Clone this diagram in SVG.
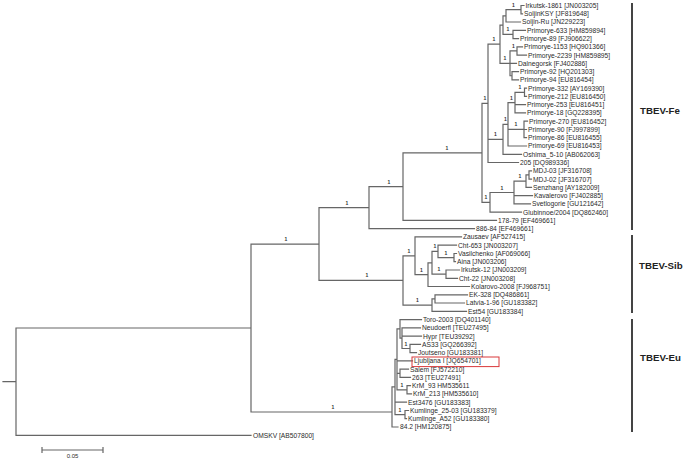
<svg xmlns="http://www.w3.org/2000/svg" width="689" height="461" viewBox="0 0 689 461">
<style>
.br{fill:none;stroke:#666;stroke-width:1.2;stroke-linecap:square}
.t{font-family:"Liberation Sans",Arial,sans-serif;font-size:6.7px;fill:#2b2b2b}
.bs{font-family:"Liberation Sans",Arial,sans-serif;font-size:5px;font-weight:bold;fill:#333;text-anchor:middle}
.cl{font-family:"Liberation Sans",Arial,sans-serif;font-size:9.7px;font-weight:bold;fill:#222}
.bar{stroke:#444;stroke-width:2}
</style>
<rect width="689" height="461" fill="#fff"/>
<g id="connectors">
<path class="br" d="M3,381.7H16 M16,328V435.3 M16,328H251 M16,435.3H251
M251,244.05V412 M251,244.05H319 M251,412H392
M319,207.65V280.45 M319,207.65H369 M319,280.45H403
M369,186.6V228.7 M369,186.6H403 M369,228.7H474.5
M403,152.8V220.4 M403,152.8H482 M403,220.4H496.5
M482,103.35V202.3 M482,103.35H488 M482,202.3H490
M488,44.2V162.5 M488,44.2H500 M488,139.3H503 M488,162.5H518.5
M500,25.1V63.35 M500,25.1H503 M500,63.35H510
M503,15.8V34.45 M503,15.8H506 M503,34.45H513
M506,9.65V22 M506,9.65H521 M506,22H520.5
M521,5.5V13.8 M521,5.5H524 M521,13.8H522.5
M513,30.3V38.6 M513,30.3H525.5 M513,38.6H518.5
M510,50.95V75.75 M510,50.95H517 M510,63.4H516.5 M510,75.75H512
M517,46.8V55.1 M517,46.8H522.5 M517,55.1H526.5
M512,71.6V79.9 M512,71.6H518.5 M512,79.9H518.5
M503,124.3V154.3 M503,124.3H508 M503,154.3H521.5
M508,102.6V146 M508,102.6H515 M508,129.45H524 M508,146H526.5
M515,92.3V112.9 M515,92.3H524.5 M515,104.7H525.5 M515,112.9H525.5
M524.5,88.2V96.4 M524.5,88.2H526.5 M524.5,96.4H526.5
M524,121.2V137.7 M524,121.2H527.5 M524,129.5H526.5 M524,137.7H526.5
M490,192.5V212.1 M490,192.5H514 M490,212.1H521.5
M514,181.1V203.9 M514,181.1H526 M514,195.6H532.5 M514,203.9H530.5
M526,174.95V187.3 M526,174.95H529 M526,187.3H531.5
M529,170.8V179.1 M529,170.8H531.5 M529,179.1H531.5
M403,255.8V305.1 M403,255.8H415 M403,305.1H432
M415,236.9V274.65 M415,236.9H461.5 M415,274.65H428
M428,262.8V286.5 M428,262.8H432 M428,286.5H469.5
M432,251.4V274.15 M432,251.4H438 M432,274.15H446
M438,245.2V257.6 M438,245.2H456.5 M438,257.6H454
M454,253.5V261.7 M454,253.5H456.5 M454,261.7H455.5
M446,270V278.3 M446,270H459.5 M446,278.3H457.5
M432,298.9V311.3 M432,298.9H435 M432,311.3H466.5
M435,294.8V303 M435,294.8H467.5 M435,303H464.5
M392,386.97V427 M392,386.97H395 M392,427H398
M395,359.35V414.6 M395,359.35H397 M395,402.2H406.5 M395,414.6H405
M397,328.9V389.8 M397,328.9H400 M397,360.9H412.5 M397,373.3H400 M397,389.8H407
M400,319.6V338.15 M400,319.6H421.5 M400,338.15H402
M402,327.8V348.5 M402,327.8H420.5 M402,336.1H421.5 M402,348.5H410
M410,344.4V352.6 M410,344.4H420.5 M410,352.6H416.5
M400,369.2V377.4 M400,369.2H408.5 M400,377.4H410.5
M407,385.7V393.9 M407,385.7H410.5 M407,393.9H411.5
M405,410.5V418.7 M405,410.5H408.5 M405,418.7H406.5"/>
</g>
<g id="support">
<text class="bs" x="513.5" y="6.6">1</text>
<text class="bs" x="508" y="31.4">1</text>
<text class="bs" x="513.5" y="47.9">1</text>
<text class="bs" x="505" y="60.3">1</text>
<text class="bs" x="520" y="89.3">1</text>
<text class="bs" x="511.5" y="99.6">1</text>
<text class="bs" x="516" y="126.4">1</text>
<text class="bs" x="505.5" y="121.3">1</text>
<text class="bs" x="494" y="41.2">1</text>
<text class="bs" x="495.5" y="136.3">1</text>
<text class="bs" x="520" y="178.1">1</text>
<text class="bs" x="502" y="189.5">1</text>
<text class="bs" x="485" y="100.3">1</text>
<text class="bs" x="486" y="199.3">1</text>
<text class="bs" x="447" y="149.8">1</text>
<text class="bs" x="389" y="183.6">1</text>
<text class="bs" x="446" y="254.6">1</text>
<text class="bs" x="435" y="248.4">1</text>
<text class="bs" x="439" y="271.1">1</text>
<text class="bs" x="421.5" y="271.6">1</text>
<text class="bs" x="409" y="252.8">1</text>
<text class="bs" x="417.5" y="302.1">1</text>
<text class="bs" x="347" y="204.6">1</text>
<text class="bs" x="367" y="277.4">1</text>
<text class="bs" x="406" y="345.5">1</text>
<text class="bs" x="402" y="386.8">1</text>
<text class="bs" x="400" y="411.6">1</text>
<text class="bs" x="286" y="241">1</text>
<text class="bs" x="333" y="409">1</text>
</g>
<g id="taxa">
<g id="n00"><text class="t" x="525.5" y="7.9">Irkutsk-1861 [JN003205]</text></g>
<g id="n01"><text class="t" x="524" y="16.2">SoljinKSY [JF819648]</text></g>
<g id="n02"><text class="t" x="522" y="24.4">Soljin-Ru [JN229223]</text></g>
<g id="n03"><text class="t" x="527" y="32.7">Primorye-633 [HM859894]</text></g>
<g id="n04"><text class="t" x="520" y="41">Primorye-89 [FJ906622]</text></g>
<g id="n05"><text class="t" x="524" y="49.2">Primorye-1153 [HQ901366]</text></g>
<g id="n06"><text class="t" x="528" y="57.5">Primorye-2239 [HM859895]</text></g>
<g id="n07"><text class="t" x="518" y="65.8">Dalnegorsk [FJ402886]</text></g>
<g id="n08"><text class="t" x="520" y="74">Primorye-92 [HQ201303]</text></g>
<g id="n09"><text class="t" x="520" y="82.3">Primorye-94 [EU816454]</text></g>
<g id="n10"><text class="t" x="528" y="90.6">Primorye-332 [AY169390]</text></g>
<g id="n11"><text class="t" x="528" y="98.8">Primorye-212 [EU816450]</text></g>
<g id="n12"><text class="t" x="527" y="107.1">Primorye-253 [EU816451]</text></g>
<g id="n13"><text class="t" x="527" y="115.3">Primorye-18 [GQ228395]</text></g>
<g id="n14"><text class="t" x="529" y="123.6">Primorye-270 [EU816452]</text></g>
<g id="n15"><text class="t" x="528" y="131.9">Primorye-90 [FJ997899]</text></g>
<g id="n16"><text class="t" x="528" y="140.1">Primorye-86 [EU816455]</text></g>
<g id="n17"><text class="t" x="528" y="148.4">Primorye-69 [EU816453]</text></g>
<g id="n18"><text class="t" x="523" y="156.7">Oshima_5-10 [AB062063]</text></g>
<g id="n19"><text class="t" x="520" y="164.9">205 [DQ989336]</text></g>
<g id="n20"><text class="t" x="533" y="173.2">MDJ-03 [JF316708]</text></g>
<g id="n21"><text class="t" x="533" y="181.5">MDJ-02 [JF316707]</text></g>
<g id="n22"><text class="t" x="533" y="189.7">Senzhang [AY182009]</text></g>
<g id="n23"><text class="t" x="534" y="198">Kavalerovo [FJ402885]</text></g>
<g id="n24"><text class="t" x="532" y="206.3">Svetlogorie [GU121642]</text></g>
<g id="n25"><text class="t" x="523" y="214.5">Glubinnoe/2004 [DQ862460]</text></g>
<g id="n26"><text class="t" x="498" y="222.8">178-79 [EF469661]</text></g>
<g id="n27"><text class="t" x="476" y="231.1">886-84 [EF469661]</text></g>
<g id="n28"><text class="t" x="463" y="239.3">Zausaev [AF527415]</text></g>
<g id="n29"><text class="t" x="458" y="247.6">Cht-653 [JN003207]</text></g>
<g id="n30"><text class="t" x="458" y="255.9">Vasilchenko [AF069066]</text></g>
<g id="n31"><text class="t" x="457" y="264.1">Aina [JN003206]</text></g>
<g id="n32"><text class="t" x="461" y="272.4">Irkutsk-12 [JN003209]</text></g>
<g id="n33"><text class="t" x="459" y="280.7">Cht-22 [JN003208]</text></g>
<g id="n34"><text class="t" x="471" y="288.9">Kolarovo-2008 [FJ968751]</text></g>
<g id="n35"><text class="t" x="469" y="297.2">EK-328 [DQ486861]</text></g>
<g id="n36"><text class="t" x="466" y="305.4">Latvia-1-96 [GU183382]</text></g>
<g id="n37"><text class="t" x="468" y="313.7">Est54 [GU183384]</text></g>
<g id="n38"><text class="t" x="423" y="322">Toro-2003 [DQ401140]</text></g>
<g id="n39"><text class="t" x="422" y="330.2">Neudoerfl [TEU27495]</text></g>
<g id="n40"><text class="t" x="423" y="338.5">Hypr [TEU39292]</text></g>
<g id="n41"><text class="t" x="422" y="346.8">AS33 [GQ266392]</text></g>
<g id="n42"><text class="t" x="418" y="355">Joutseno [GU183381]</text></g>
<g id="n43"><rect x="412" y="357" width="87" height="9.6" fill="none" stroke="#d9383a" stroke-width="1"/><text class="t" x="414" y="363.3">Ljubljana I [JQ654701]</text></g>
<g id="n44"><text class="t" x="410" y="371.6">Salem [FJ572210]</text></g>
<g id="n45"><text class="t" x="412" y="379.8">263 [TEU27491]</text></g>
<g id="n46"><text class="t" x="412" y="388.1">KrM_93 HM535611</text></g>
<g id="n47"><text class="t" x="413" y="396.3">KrM_213 [HM535610]</text></g>
<g id="n48"><text class="t" x="408" y="404.6">Est3476 [GU183383]</text></g>
<g id="n49"><text class="t" x="410" y="412.9">Kumlinge_25-03 [GU183379]</text></g>
<g id="n50"><text class="t" x="408" y="421.1">Kumlinge_A52 [GU183380]</text></g>
<g id="n51"><text class="t" x="400" y="429.4">84.2 [HM120875]</text></g>
<g id="n52"><text class="t" x="253" y="437.7">OMSKV [AB507800]</text></g>
</g>
<g id="clades">
<g id="clade-fe"><line class="bar" x1="632" y1="3" x2="632" y2="230"/><text class="cl" x="640" y="113.5">TBEV-Fe</text></g>
<g id="clade-sib"><line class="bar" x1="632" y1="235" x2="632" y2="313"/><text class="cl" x="639" y="268.6">TBEV-Sib</text></g>
<g id="clade-eu"><line class="bar" x1="632" y1="319" x2="632" y2="432"/><text class="cl" x="640" y="360.6">TBEV-Eu</text></g>
</g>
<g id="scale">
<path class="br" d="M42,450H103 M42,447V453 M103,447V453" style="stroke-linecap:butt"/>
<text class="t" x="72.5" y="457.6" style="font-size:6px;text-anchor:middle">0.05</text>
</g>
</svg>
